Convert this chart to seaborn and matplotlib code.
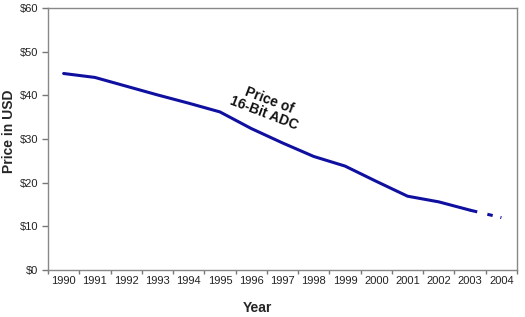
import matplotlib
matplotlib.use("Agg")
import matplotlib.pyplot as plt
import seaborn as sns
import pandas as pd

# ---- data ----
years = [1990, 1991, 1992, 1993, 1994, 1995, 1996, 1997, 1998, 1999, 2000, 2001, 2002, 2003]
price = [45.0, 44.1, 42.1, 40.1, 38.2, 36.2, 32.4, 29.1, 26.0, 23.8, 20.3, 16.9, 15.6, 13.7]
proj_years = [2003, 2004]
proj_price = [13.7, 12.0]
tick_years = list(range(1990, 2005))
y_ticks = [0, 10, 20, 30, 40, 50, 60]
y_tick_labels = ["$0", "$10", "$20", "$30", "$40", "$50", "$60"]

sns.set_theme(style="white")
plt.rcParams["font.family"] = ["Liberation Sans", "DejaVu Sans"]

fig = plt.figure(figsize=(5.25, 3.17), dpi=100)
ax = fig.add_axes([48 / 525, 1 - 270 / 317, (517 - 48) / 525, (270 - 8) / 317])

line_color = "#1010a0"
df = pd.DataFrame({"Year": years, "Price": price})
sns.lineplot(data=df, x="Year", y="Price", ax=ax, color=line_color, linewidth=2.2)
dfp = pd.DataFrame({"Year": proj_years, "Price": proj_price})
sns.lineplot(data=dfp, x="Year", y="Price", ax=ax, color=line_color, linewidth=2.2,
             linestyle=(0, (2.4, 3.4, 1.8, 2.6, 0.9, 10)))

ax.set_xlim(1989.5, 2004.5)
ax.set_ylim(0, 60)
ax.set_xticks(tick_years)
ax.set_xticklabels([str(y) for y in tick_years], fontsize=8, color="#222222")
ax.set_xticks([y - 0.5 for y in tick_years] + [2004.5], minor=True)
ax.tick_params(axis="x", which="major", length=0, pad=4)
ax.tick_params(axis="x", which="minor", length=3, color="#777777", width=1, direction="out", bottom=True)
ax.set_yticks(y_ticks)
ax.set_yticklabels(y_tick_labels, fontsize=8, color="#222222")
ax.tick_params(axis="y", which="major", length=4, color="#777777", width=1, direction="out", left=True, pad=3)

for s in ax.spines.values():
    s.set_visible(True)
    s.set_color("#888888")
    s.set_linewidth(1.0)
ax.grid(False)

ax.set_xlabel("Year", fontsize=10, fontweight="bold")
ax.xaxis.set_label_coords(0.446, -0.118)
ax.set_ylabel("Price in USD", fontsize=10, fontweight="bold")
ax.yaxis.set_label_coords(-0.068, 0.529)

ax.text(1996.5, 37.4, "Price of\n16-Bit ADC", rotation=-21, rotation_mode="anchor",
        ha="center", va="center", fontsize=10, fontweight="bold", color="#111111",
        linespacing=1.0)

fig.savefig("out.png", dpi=100)
